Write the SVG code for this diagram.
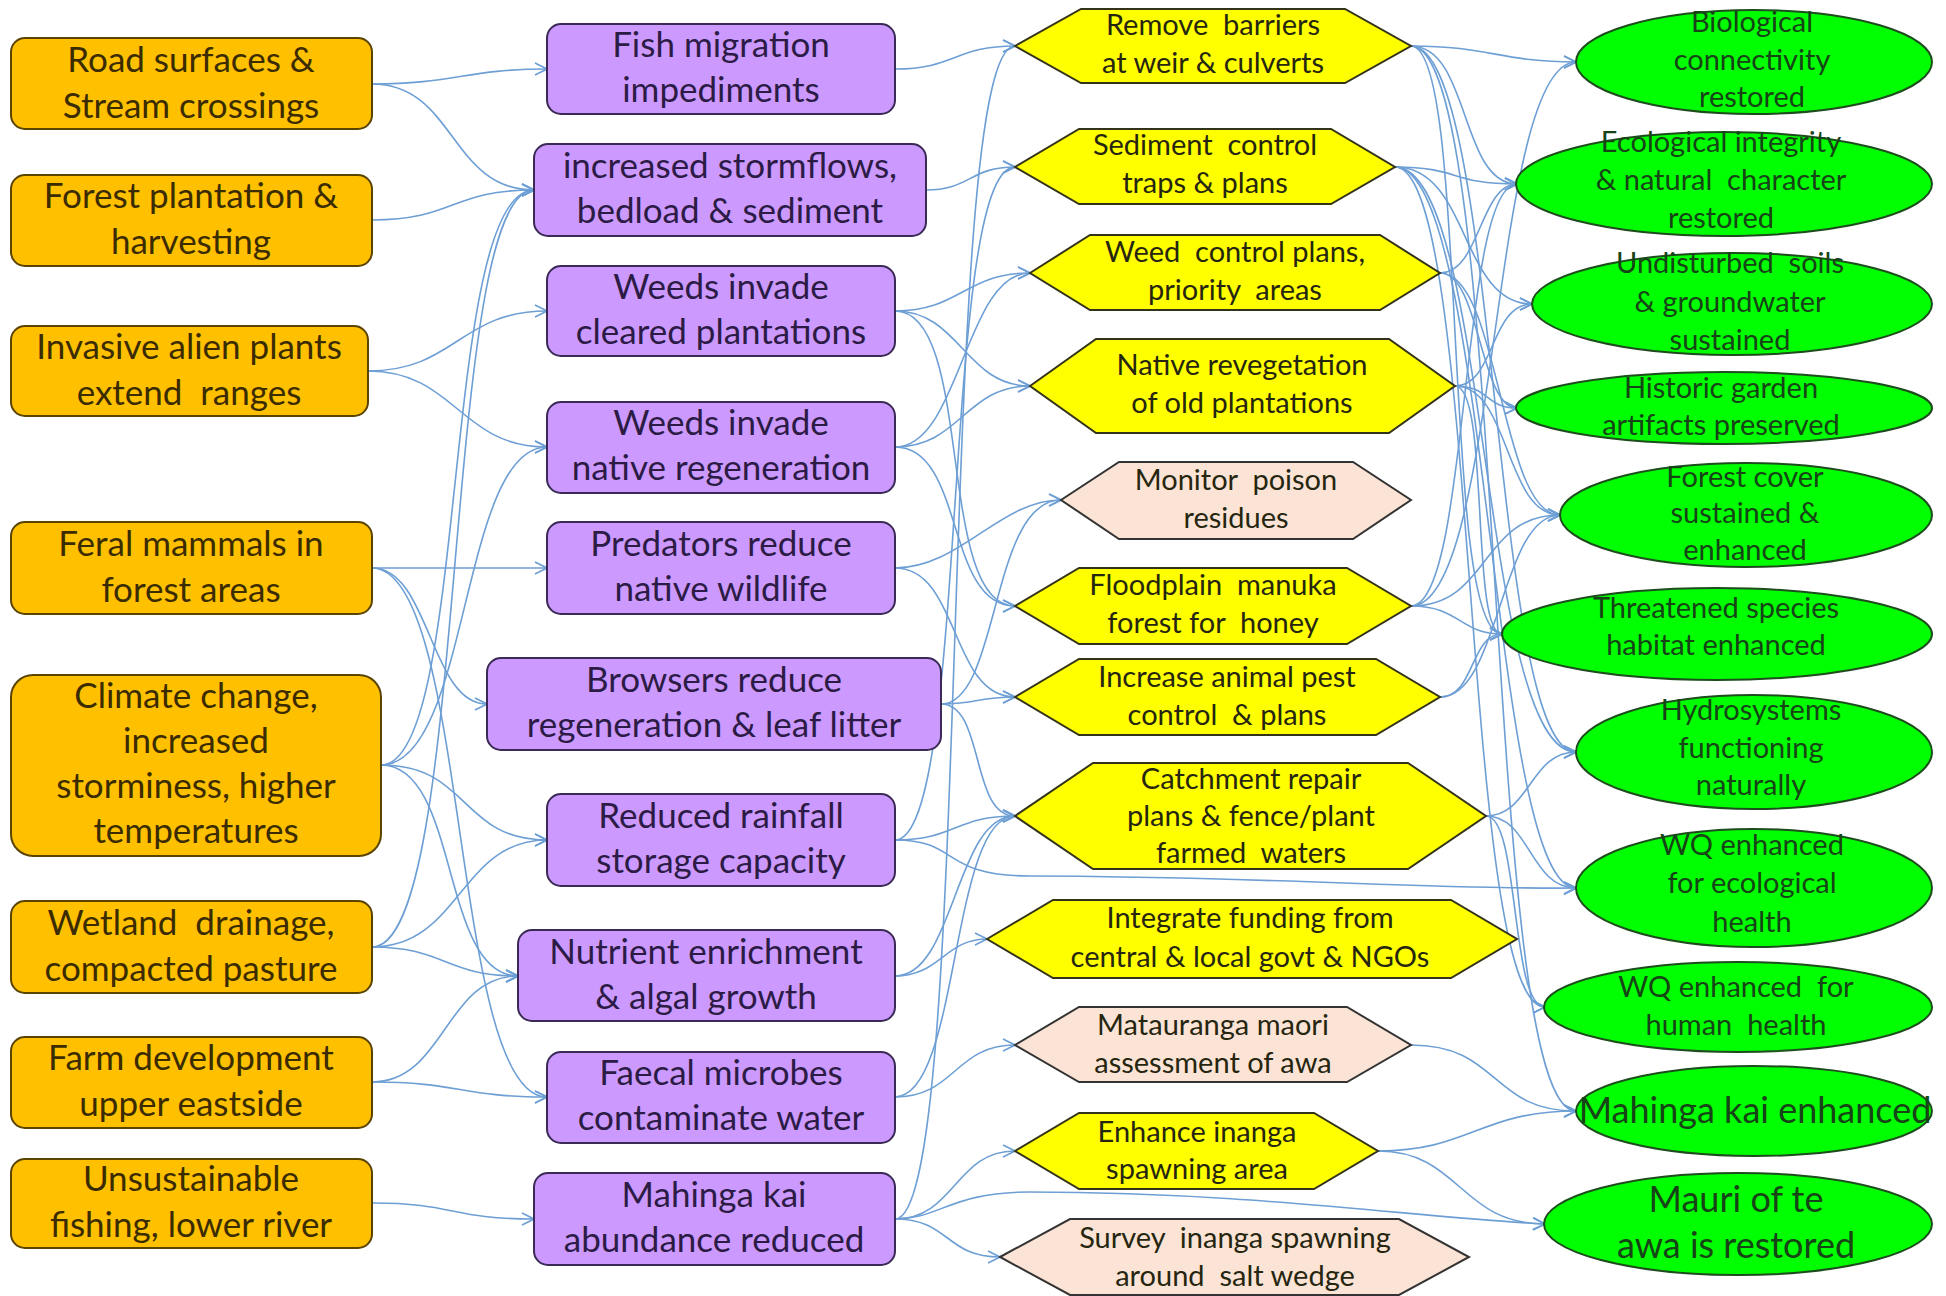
<svg xmlns="http://www.w3.org/2000/svg" width="1946" height="1296" viewBox="0 0 1946 1296">
<style>
text{font-family:Lato,"Liberation Sans",sans-serif;text-anchor:middle;white-space:pre}
.b1{fill:#FFC000;stroke:#5a4400;stroke-width:2}
.b2{fill:#CC99FF;stroke:#3a2a55;stroke-width:2}
.hy{fill:#FFFF00;stroke:#33331a;stroke-width:2}
.hp{fill:#FBE4D5;stroke:#333;stroke-width:2}
.el{fill:#00FF00;stroke:#1d4d1d;stroke-width:2}
.t1{font-size:35px;fill:#3b2c00}
.t2{font-size:35px;fill:#2b1b45}
.t3{font-size:29px;fill:#262610}
.t4{font-size:29px;fill:#174417}
.t5{font-size:36px;fill:#174417}
#conn path{fill:none;stroke:#6d9fd5;stroke-width:1.6;marker-end:url(#ar)}
</style>
<defs>
<marker id="ar" viewBox="0 0 14 14" refX="13" refY="7" markerWidth="14" markerHeight="14" markerUnits="userSpaceOnUse" orient="auto"><path d="M1,1 L13,7 L1,13" fill="none" stroke="#6d9fd5" stroke-width="1.6"/></marker>
</defs>
<rect width="1946" height="1296" fill="#fff"/>
<g id="conn">
<path d="M372,84 C455,84 465,69 547,69"/>
<path d="M372,84 C455,84 450,190 534,190"/>
<path d="M372,220 C455,220 450,190 534,190"/>
<path d="M368,371 C455,371 460,311 547,311"/>
<path d="M368,371 C455,371 460,447 547,447"/>
<path d="M372,568 L547,568"/>
<path d="M372,568 C430,568 430,704 487,704"/>
<path d="M372,568 C470,568 450,1097 547,1097"/>
<path d="M381,765 C470,765 440,190 534,190"/>
<path d="M381,765 C470,765 460,447 547,447"/>
<path d="M381,765 C470,765 460,840 547,840"/>
<path d="M381,765 C460,765 440,976 518,976"/>
<path d="M372,947 C460,947 460,840 547,840"/>
<path d="M372,947 C445,947 445,976 518,976"/>
<path d="M372,947 C470,947 440,190 534,190"/>
<path d="M372,1082 C445,1082 445,976 518,976"/>
<path d="M372,1082 C460,1082 460,1097 547,1097"/>
<path d="M372,1203 C455,1203 450,1219 534,1219"/>
<path d="M895,69 C955,69 955,46 1015,46"/>
<path d="M926,190 C970,190 970,167 1015,167"/>
<path d="M895,311 C960,311 965,273 1030,273"/>
<path d="M895,311 C960,311 965,386 1030,386"/>
<path d="M895,311 C975,311 935,606 1015,606"/>
<path d="M895,447 C960,447 965,273 1030,273"/>
<path d="M895,447 C960,447 965,386 1030,386"/>
<path d="M895,447 C965,447 945,606 1015,606"/>
<path d="M895,568 C960,568 950,697 1015,697"/>
<path d="M895,568 C960,568 1000,500 1061,500"/>
<path d="M941,704 C980,704 975,697 1015,697"/>
<path d="M941,704 C985,704 970,816 1015,816"/>
<path d="M941,704 C1000,704 990,500 1061,500"/>
<path d="M895,840 C955,840 955,816 1015,816"/>
<path d="M895,840 C970,840 940,167 1015,167"/>
<path d="M895,976 C940,976 945,939 987,939"/>
<path d="M895,976 C955,976 955,816 1015,816"/>
<path d="M895,1097 C955,1097 955,1045 1015,1045"/>
<path d="M895,1097 C960,1097 950,816 1015,816"/>
<path d="M895,1219 C955,1219 955,1151 1015,1151"/>
<path d="M895,1219 C950,1219 945,1257 1000,1257"/>
<path d="M895,1219 C975,1219 935,46 1015,46"/>
<path d="M1411,46 C1490,46 1500,62 1576,62"/>
<path d="M1411,46 C1470,46 1460,184 1517,184"/>
<path d="M1411,46 C1500,46 1490,752 1576,752"/>
<path d="M1411,46 C1510,46 1480,1111 1576,1111"/>
<path d="M1411,46 C1470,46 1440,634 1502,634"/>
<path d="M1395,167 C1460,167 1450,184 1517,184"/>
<path d="M1395,167 C1470,167 1460,304 1532,304"/>
<path d="M1395,167 C1490,167 1480,752 1576,752"/>
<path d="M1395,167 C1490,167 1490,888 1576,888"/>
<path d="M1395,167 C1480,167 1460,1007 1545,1007"/>
<path d="M1440,273 C1480,273 1480,184 1517,184"/>
<path d="M1440,273 C1500,273 1500,515 1560,515"/>
<path d="M1440,273 C1480,273 1480,408 1517,408"/>
<path d="M1455,386 C1510,386 1505,515 1560,515"/>
<path d="M1455,386 C1490,386 1485,408 1517,408"/>
<path d="M1455,386 C1495,386 1490,304 1532,304"/>
<path d="M1455,386 C1490,386 1470,634 1502,634"/>
<path d="M1411,606 C1490,606 1480,515 1560,515"/>
<path d="M1411,606 C1500,606 1490,62 1576,62"/>
<path d="M1411,606 C1460,606 1460,634 1502,634"/>
<path d="M1411,606 C1470,606 1460,184 1517,184"/>
<path d="M1440,697 C1475,697 1470,634 1502,634"/>
<path d="M1440,697 C1500,697 1500,515 1560,515"/>
<path d="M1486,816 C1530,816 1530,752 1576,752"/>
<path d="M1486,816 C1530,816 1530,888 1576,888"/>
<path d="M1486,816 C1520,816 1510,1007 1545,1007"/>
<path d="M1411,1045 C1500,1045 1490,1111 1576,1111"/>
<path d="M1378,1151 C1460,1151 1460,1224 1545,1224"/>
<path d="M1378,1151 C1470,1151 1480,1111 1576,1111"/>
<path d="M895,840 C960,840 940,876 1030,876 C1250,876 1450,890 1576,888"/>
<path d="M895,1219 C940,1219 950,1192 1030,1192 C1250,1192 1420,1218 1545,1224"/>
</g>
<g id="road"><rect class="b1" x="11" y="38" width="361" height="91" rx="14"/><text class="t1"><tspan x="191" y="72">Road surfaces &amp;</tspan><tspan x="191" y="118">Stream crossings</tspan></text></g>
<g id="forest"><rect class="b1" x="11" y="175" width="361" height="91" rx="14"/><text class="t1"><tspan x="191" y="208">Forest plantation &amp;</tspan><tspan x="191" y="254">harvesting</tspan></text></g>
<g id="invasive"><rect class="b1" x="11" y="326" width="357" height="90" rx="14"/><text class="t1"><tspan x="189" y="359">Invasive alien plants</tspan><tspan x="189" y="405">extend  ranges</tspan></text></g>
<g id="feral"><rect class="b1" x="11" y="522" width="361" height="92" rx="14"/><text class="t1"><tspan x="191" y="556">Feral mammals in</tspan><tspan x="191" y="602">forest areas</tspan></text></g>
<g id="climate"><rect class="b1" x="11" y="675" width="370" height="181" rx="22"/><text class="t1"><tspan x="196" y="708">Climate change,</tspan><tspan x="196" y="753">increased</tspan><tspan x="196" y="798">storminess, higher</tspan><tspan x="196" y="843">temperatures</tspan></text></g>
<g id="wetland"><rect class="b1" x="11" y="901" width="361" height="92" rx="14"/><text class="t1"><tspan x="191" y="935">Wetland  drainage,</tspan><tspan x="191" y="981">compacted pasture</tspan></text></g>
<g id="farm"><rect class="b1" x="11" y="1037" width="361" height="91" rx="14"/><text class="t1"><tspan x="191" y="1070">Farm development</tspan><tspan x="191" y="1116">upper eastside</tspan></text></g>
<g id="fishing"><rect class="b1" x="11" y="1159" width="361" height="89" rx="14"/><text class="t1"><tspan x="191" y="1191">Unsustainable</tspan><tspan x="191" y="1237">fishing, lower river</tspan></text></g>
<g id="fishmig"><rect class="b2" x="547" y="24" width="348" height="90" rx="14"/><text class="t2"><tspan x="721" y="57">Fish migration</tspan><tspan x="721" y="102">impediments</tspan></text></g>
<g id="storm"><rect class="b2" x="534" y="144" width="392" height="92" rx="14"/><text class="t2"><tspan x="730" y="178">increased stormflows,</tspan><tspan x="730" y="223">bedload &amp; sediment</tspan></text></g>
<g id="weedscl"><rect class="b2" x="547" y="266" width="348" height="90" rx="14"/><text class="t2"><tspan x="721" y="299">Weeds invade</tspan><tspan x="721" y="344">cleared plantations</tspan></text></g>
<g id="weedsnat"><rect class="b2" x="547" y="402" width="348" height="91" rx="14"/><text class="t2"><tspan x="721" y="435">Weeds invade</tspan><tspan x="721" y="480">native regeneration</tspan></text></g>
<g id="pred"><rect class="b2" x="547" y="522" width="348" height="92" rx="14"/><text class="t2"><tspan x="721" y="556">Predators reduce</tspan><tspan x="721" y="601">native wildlife</tspan></text></g>
<g id="brows"><rect class="b2" x="487" y="658" width="454" height="92" rx="14"/><text class="t2"><tspan x="714" y="692">Browsers reduce</tspan><tspan x="714" y="737">regeneration &amp; leaf litter</tspan></text></g>
<g id="rain"><rect class="b2" x="547" y="794" width="348" height="92" rx="14"/><text class="t2"><tspan x="721" y="828">Reduced rainfall</tspan><tspan x="721" y="873">storage capacity</tspan></text></g>
<g id="nutr"><rect class="b2" x="518" y="930" width="377" height="91" rx="14"/><text class="t2"><tspan x="706" y="964">Nutrient enrichment</tspan><tspan x="706" y="1009">&amp; algal growth</tspan></text></g>
<g id="faecal"><rect class="b2" x="547" y="1052" width="348" height="91" rx="14"/><text class="t2"><tspan x="721" y="1085">Faecal microbes</tspan><tspan x="721" y="1130">contaminate water</tspan></text></g>
<g id="mkred"><rect class="b2" x="534" y="1173" width="361" height="92" rx="14"/><text class="t2"><tspan x="714" y="1207">Mahinga kai</tspan><tspan x="714" y="1252">abundance reduced</tspan></text></g>
<g id="remove"><polygon class="hy" points="1015,46 1081,9 1345,9 1411,46 1345,83 1081,83"/><text class="t3"><tspan x="1213" y="35">Remove  barriers</tspan><tspan x="1213" y="73">at weir &amp; culverts</tspan></text></g>
<g id="sediment"><polygon class="hy" points="1015,167 1079,129 1331,129 1395,167 1331,204 1079,204"/><text class="t3"><tspan x="1205" y="155">Sediment  control</tspan><tspan x="1205" y="193">traps &amp; plans</tspan></text></g>
<g id="weedctl"><polygon class="hy" points="1030,273 1090,235 1380,235 1440,273 1380,310 1090,310"/><text class="t3"><tspan x="1235" y="262">Weed  control plans,</tspan><tspan x="1235" y="300">priority  areas</tspan></text></g>
<g id="reveg"><polygon class="hy" points="1030,386 1096,339 1389,339 1455,386 1389,433 1096,433"/><text class="t3"><tspan x="1242" y="375">Native revegetation</tspan><tspan x="1242" y="413">of old plantations</tspan></text></g>
<g id="monitor"><polygon class="hp" points="1061,500 1119,462 1353,462 1411,500 1353,539 1119,539"/><text class="t3"><tspan x="1236" y="490">Monitor  poison</tspan><tspan x="1236" y="528">residues</tspan></text></g>
<g id="manuka"><polygon class="hy" points="1015,606 1079,568 1347,568 1411,606 1347,644 1079,644"/><text class="t3"><tspan x="1213" y="595">Floodplain  manuka</tspan><tspan x="1213" y="633">forest for  honey</tspan></text></g>
<g id="pest"><polygon class="hy" points="1015,697 1079,659 1376,659 1440,697 1376,735 1079,735"/><text class="t3"><tspan x="1227" y="687">Increase animal pest</tspan><tspan x="1227" y="725">control  &amp; plans</tspan></text></g>
<g id="catch"><polygon class="hy" points="1015,816 1093,763 1408,763 1486,816 1408,869 1093,869"/><text class="t3"><tspan x="1251" y="789">Catchment repair</tspan><tspan x="1251" y="826">plans &amp; fence/plant</tspan><tspan x="1251" y="863">farmed  waters</tspan></text></g>
<g id="fund"><polygon class="hy" points="987,939 1053,900 1451,900 1517,939 1451,978 1053,978"/><text class="t3"><tspan x="1250" y="928">Integrate funding from</tspan><tspan x="1250" y="967">central &amp; local govt &amp; NGOs</tspan></text></g>
<g id="matau"><polygon class="hp" points="1015,1045 1079,1007 1347,1007 1411,1045 1347,1082 1079,1082"/><text class="t3"><tspan x="1213" y="1035">Matauranga maori</tspan><tspan x="1213" y="1073">assessment of awa</tspan></text></g>
<g id="enhinanga"><polygon class="hy" points="1015,1151 1079,1113 1314,1113 1378,1151 1314,1189 1079,1189"/><text class="t3"><tspan x="1197" y="1142">Enhance inanga</tspan><tspan x="1197" y="1179">spawning area</tspan></text></g>
<g id="survey"><polygon class="hp" points="1000,1257 1070,1219 1399,1219 1469,1257 1399,1295 1070,1295"/><text class="t3"><tspan x="1235" y="1248">Survey  inanga spawning</tspan><tspan x="1235" y="1286">around  salt wedge</tspan></text></g>
<g id="bio"><ellipse class="el" cx="1754" cy="62" rx="178" ry="52"/><text class="t4"><tspan x="1752" y="32">Biological</tspan><tspan x="1752" y="70">connectivity</tspan><tspan x="1752" y="107">restored</tspan></text></g>
<g id="eco"><ellipse class="el" cx="1724" cy="184" rx="208" ry="52"/><text class="t4"><tspan x="1721" y="152">Ecological integrity</tspan><tspan x="1721" y="190">&amp; natural  character</tspan><tspan x="1721" y="228">restored</tspan></text></g>
<g id="soils"><ellipse class="el" cx="1732" cy="304" rx="200" ry="51"/><text class="t4"><tspan x="1730" y="273">Undisturbed  soils</tspan><tspan x="1730" y="312">&amp; groundwater</tspan><tspan x="1730" y="350">sustained</tspan></text></g>
<g id="garden"><ellipse class="el" cx="1724" cy="408" rx="208" ry="36"/><text class="t4"><tspan x="1721" y="398">Historic garden</tspan><tspan x="1721" y="435">artifacts preserved</tspan></text></g>
<g id="forestcov"><ellipse class="el" cx="1746" cy="515" rx="186" ry="52"/><text class="t4"><tspan x="1745" y="487">Forest cover</tspan><tspan x="1745" y="523">sustained &amp;</tspan><tspan x="1745" y="560">enhanced</tspan></text></g>
<g id="threat"><ellipse class="el" cx="1717" cy="634" rx="215" ry="46"/><text class="t4"><tspan x="1716" y="618">Threatened species</tspan><tspan x="1716" y="655">habitat enhanced</tspan></text></g>
<g id="hydro"><ellipse class="el" cx="1754" cy="752" rx="178" ry="57"/><text class="t4"><tspan x="1751" y="720">Hydrosystems</tspan><tspan x="1751" y="758">functioning</tspan><tspan x="1751" y="795">naturally</tspan></text></g>
<g id="wqeco"><ellipse class="el" cx="1754" cy="888" rx="178" ry="59"/><text class="t4"><tspan x="1752" y="855">WQ enhanced</tspan><tspan x="1752" y="893">for ecological</tspan><tspan x="1752" y="932">health</tspan></text></g>
<g id="wqhum"><ellipse class="el" cx="1738" cy="1007" rx="194" ry="45"/><text class="t4"><tspan x="1736" y="997">WQ enhanced  for</tspan><tspan x="1736" y="1035">human  health</tspan></text></g>
<g id="mkenh"><ellipse class="el" cx="1754" cy="1111" rx="178" ry="45"/><text class="t5"><tspan x="1755" y="1123">Mahinga kai enhanced</tspan></text></g>
<g id="mauri"><ellipse class="el" cx="1738" cy="1224" rx="194" ry="51"/><text class="t5"><tspan x="1736" y="1212">Mauri of te</tspan><tspan x="1736" y="1258">awa is restored</tspan></text></g>
</svg>
